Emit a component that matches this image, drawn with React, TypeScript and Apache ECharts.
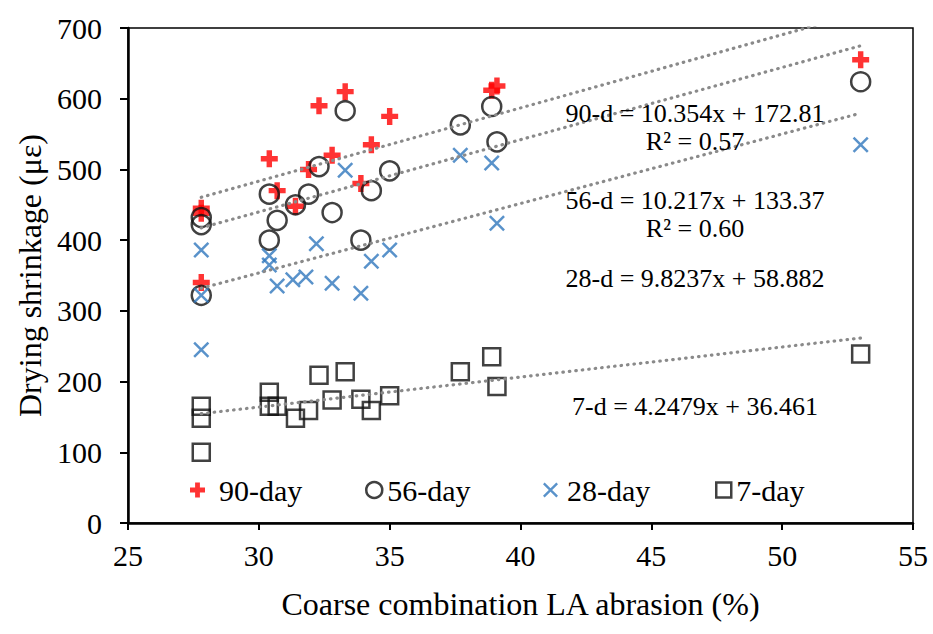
import React, { useEffect, useRef } from "react";
import * as echarts from "echarts";

// ---- Data ----
const la90 = [27.8, 27.8, 27.8, 30.4, 30.7, 31.4, 31.9, 32.3, 32.8, 33.3, 33.9, 34.3, 35.0, 38.9, 39.1, 53.0];
const ds90 = [445, 438, 340, 515, 470, 448, 500, 590, 520, 610, 480, 535, 575, 612, 618, 655];

const la56 = [27.8, 27.8, 27.8, 30.4, 30.4, 30.7, 31.4, 31.9, 32.3, 32.8, 33.3, 33.9, 34.3, 35.0, 37.7, 38.9, 39.1, 53.0];
const ds56 = [432, 422, 322, 465, 400, 428, 450, 465, 504, 439, 583, 400, 470, 498, 563, 589, 539, 624];

const la28 = [27.8, 27.8, 27.8, 30.4, 30.4, 30.7, 31.3, 31.8, 32.2, 32.8, 33.3, 33.9, 34.3, 35.0, 37.7, 38.9, 39.1, 53.0];
const ds28 = [386, 322, 245, 378, 365, 335, 344, 348, 395, 339, 499, 325, 370, 386, 520, 509, 424, 535];

const la7 = [27.8, 27.8, 27.8, 30.4, 30.4, 30.7, 31.4, 31.9, 32.3, 32.8, 33.3, 33.9, 34.3, 35.0, 37.7, 38.9, 39.1, 53.0];
const ds7 = [165, 148, 100, 185, 165, 165, 148, 159, 209, 174, 214, 175, 159, 180, 214, 235, 193, 239];

const seriesNames = ["90-day", "56-day", "28-day", "7-day"];
const trendSlopes = [10.354, 10.217, 9.8237, 4.2479];
const trendIntercepts = [172.81, 133.37, 58.882, 36.461];
const trendXRange = [27.8, 53.0];
const equationTexts = [
  "90-d = 10.354x + 172.81",
  "R\u00b2 = 0.57",
  "56-d = 10.217x + 133.37",
  "R\u00b2 = 0.60",
  "28-d = 9.8237x + 58.882",
  "7-d = 4.2479x + 36.461",
];

const xTicks = [25, 55, 5];
const yTicks = [0, 700, 100];

const FONT = "Liberation Serif";

const plusPath = "path://M3.4,0H6.6V3.4H10V6.6H6.6V10H3.4V6.6H0V3.4H3.4Z";
const crossPath = "path://M0,1.1L1.1,0L10,8.9L8.9,10Z M8.9,0L10,1.1L1.1,10L0,8.9Z";

function pairs(xs: number[], ys: number[]) {
  return xs.map((x, i) => [x, ys[i]]);
}

export default function App() {
  const ref = useRef<HTMLDivElement>(null);
  useEffect(() => {
    if (!ref.current) return;
    const chart = echarts.init(ref.current, undefined, { renderer: "svg" });

    const styles = [
      { symbol: plusPath, size: 17, itemStyle: { color: "#ff0000" } },
      { symbol: "circle", size: 19, itemStyle: { color: "rgba(0,0,0,0)", borderColor: "#111", borderWidth: 2.5 } },
      { symbol: crossPath, size: 16, itemStyle: { color: "#2f77bd" } },
      { symbol: "rect", size: 17, itemStyle: { color: "rgba(0,0,0,0)", borderColor: "#111", borderWidth: 2.5 } },
    ];
    const dataSets = [pairs(la90, ds90), pairs(la56, ds56), pairs(la28, ds28), pairs(la7, ds7)];

    const scatterSeries = seriesNames.map((name, i) => ({
      name,
      type: "scatter",
      data: dataSets[i],
      symbol: styles[i].symbol,
      symbolSize: styles[i].size,
      itemStyle: styles[i].itemStyle,
      z: 3,
    }));

    const trendSeries = trendSlopes.map((m, i) => ({
      name: "trend" + i,
      type: "line",
      data: trendXRange.map((x) => [x, m * x + trendIntercepts[i]]),
      showSymbol: false,
      symbol: "none",
      clip: true,
      lineStyle: { color: "#8a8a8a", width: 3.2, type: [0.5, 6], cap: "round" },
      silent: true,
      z: 4,
    }));

    const legendLefts = [190, 365, 543, 715];
    const legendPads = [9, 0, 4, 0];
    const legendIconSizes = [15, 16, 15, 15];
    const legends = seriesNames.map((name, i) => ({
      data: [{ name, icon: styles[i].symbol, itemStyle: styles[i].itemStyle }],
      left: legendLefts[i],
      top: 475,
      padding: 0,
      itemWidth: legendIconSizes[i],
      itemHeight: legendIconSizes[i],
      selectedMode: false,
      textStyle: { fontFamily: FONT, fontSize: 30, color: "#000", padding: [0, 0, 0, legendPads[i]] },
    }));

    const eqY = [113, 141, 200, 228, 278, 406];

    chart.setOption({
      animation: false,
      backgroundColor: "#fff",
      grid: {
        left: 128,
        right: 20,
        top: 28,
        bottom: 111,
        show: true,
        borderColor: "#000",
        borderWidth: 1.5,
      },
      legend: legends,
      graphic: equationTexts.map((t, i) => ({
        type: "text",
        x: 695,
        y: eqY[i],
        style: {
          text: t,
          fill: "#000",
          font: `26px "${FONT}"`,
          textAlign: "center",
          textVerticalAlign: "middle",
        },
        z: 10,
      })),
      xAxis: {
        type: "value",
        min: xTicks[0],
        max: xTicks[1],
        interval: xTicks[2],
        name: "Coarse combination LA abrasion (%)",
        nameLocation: "middle",
        nameGap: 65,
        nameTextStyle: { fontFamily: FONT, fontSize: 32, color: "#000" },
        axisLine: { lineStyle: { color: "#000", width: 2.5 }, onZero: false },
        axisTick: { show: true, length: 7, lineStyle: { color: "#000", width: 2 } },
        axisLabel: { fontFamily: FONT, fontSize: 30, color: "#000", margin: 17 },
        splitLine: { show: false },
      },
      yAxis: {
        type: "value",
        min: yTicks[0],
        max: yTicks[1],
        interval: yTicks[2],
        name: "Drying shrinkage (\u03bc\u03b5)",
        nameLocation: "middle",
        nameGap: 80,
        nameTextStyle: { fontFamily: FONT, fontSize: 32, color: "#000" },
        axisLine: { show: true, lineStyle: { color: "#000", width: 2.5 } },
        axisTick: { show: true, length: 8, lineStyle: { color: "#000", width: 2 } },
        axisLabel: { fontFamily: FONT, fontSize: 30, color: "#000", margin: 26 },
        splitLine: { show: false },
      },
      series: [...scatterSeries, ...trendSeries],
    });

    return () => chart.dispose();
  }, []);

  return <div ref={ref} style={{ width: 933, height: 634, position: "absolute", left: 0, top: 0 }} />;
}
